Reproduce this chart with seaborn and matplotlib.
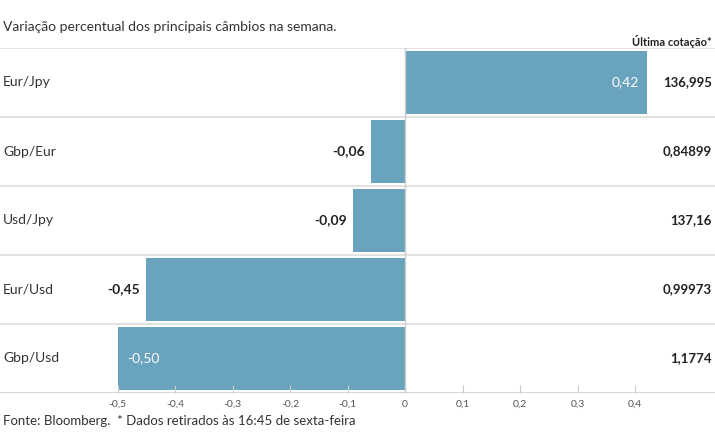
import matplotlib
matplotlib.use("Agg")
import matplotlib.pyplot as plt
import seaborn as sns
import pandas as pd

pairs = ["Eur/Jpy", "Gbp/Eur", "Usd/Jpy", "Eur/Usd", "Gbp/Usd"]
changes = [0.42, -0.06, -0.09, -0.45, -0.50]
last_quote = ["136,995", "0,84899", "137,16", "0,99973", "1,1774"]
ticks = [-0.5, -0.4, -0.3, -0.2, -0.1, 0, 0.1, 0.2, 0.3, 0.4, 0.5]
tick_labels = ["-0,5", "-0,4", "-0,3", "-0,2", "-0,1", "0", "0,1", "0,2", "0,3", "0,4", "0,5"]

plt.rcParams["font.family"] = "Lato"
W, H = 715, 445
fig = plt.figure(figsize=(W/100, H/100), dpi=100)
ax = fig.add_axes([0, 1-393/H, 1, 345/H])
df = pd.DataFrame({"pair": pairs, "chg": changes})
sns.barplot(data=df, x="chg", y="pair", orient="h", color="#6aa3be", width=0.9, ax=ax,
            saturation=1)
ppu = 575.0
x0 = 405
ax.set_xlim(-x0/ppu, (W-x0)/ppu)
ax.set_ylim(4.5, -0.5)
for s in ax.spines.values():
    s.set_visible(False)
ax.set_xlabel(""); ax.set_ylabel("")
ax.set_yticks([])
ax.set_xticks(ticks[:-1])
ax.set_xticklabels(tick_labels[:-1], fontsize=7.5, color="#555555")
ax.tick_params(axis="x", direction="in", length=6, color="#cccccc", pad=5)
ax.axhline(4.5, color="#cccccc", lw=1.2)
for k in range(5):
    ax.axhline(k-0.5, color="#dddddd", lw=1.2)
ax.axvline(0, color="#cccccc", lw=1)

px = 1/ppu
for i, (p, v, q) in enumerate(zip(pairs, changes, last_quote)):
    lab = f"{v:.2f}".replace(".", ",")
    ax.text(-x0*px + 3*px, i, p, ha="left", va="center", fontsize=10, color="#333333")
    if v > 0:
        ax.text(v - 8*px, i, lab, ha="right", va="center", fontsize=10, color="white")
    elif v <= -0.5:
        ax.text(v + 10*px, i, lab, ha="left", va="center", fontsize=10, color="white")
    else:
        ax.text(v - 6*px, i, lab, ha="right", va="center", fontsize=10, color="#222222", fontweight="bold")
    ax.text((W - 3 - x0)*px, i, q, ha="right", va="center", fontsize=9.5, color="#222222", fontweight="bold")

fig.text(3/W, 1-27/H, "Variação percentual dos principais câmbios na semana.", fontsize=10,
         color="#333333", va="center", ha="left")
fig.text(712/W, 1-41/H, "Última cotação*", fontsize=8, fontweight="bold", color="#222222",
         va="center", ha="right")
fig.text(3/W, 1-421/H, "Fonte: Bloomberg.  * Dados retirados às 16:45 de sexta-feira", fontsize=9.5,
         color="#333333", va="center", ha="left")
fig.savefig("out.png", dpi=100)
